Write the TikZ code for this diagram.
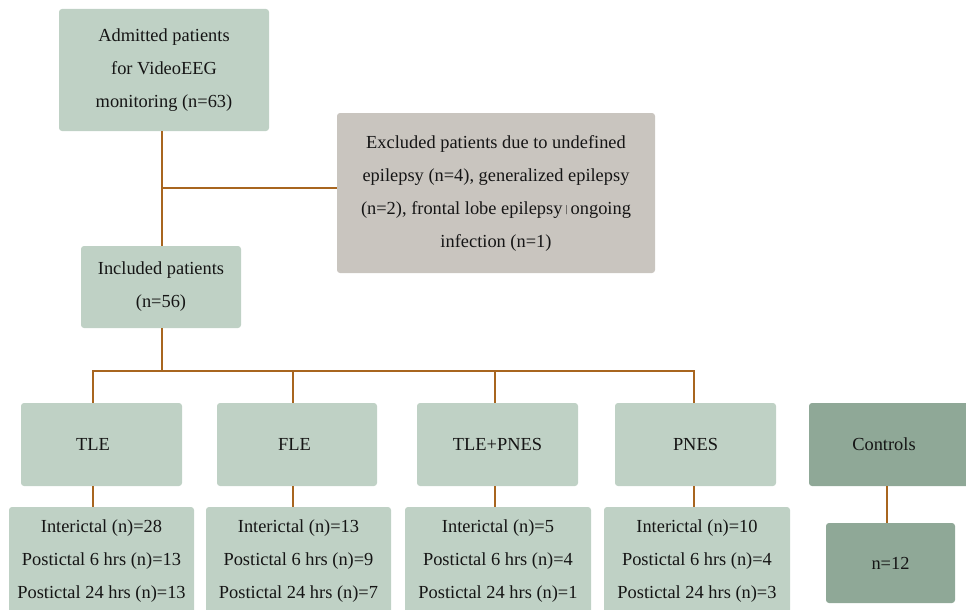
\documentclass[tikz,border=0pt]{standalone}
\usepackage{fontspec}
\setmainfont{Liberation Serif}
\definecolor{boxg}{HTML}{BFD1C5}
\definecolor{boxgray}{HTML}{C9C5BF}
\definecolor{boxdark}{HTML}{8FA897}
\definecolor{brn}{HTML}{A8651F}
\definecolor{txt}{HTML}{151515}
\begin{document}
\begin{tikzpicture}[x=1pt,y=-1pt,
  box/.style={rectangle, rounded corners=3pt, align=center, inner sep=0pt,
    font=\fontsize{18.4}{33}\selectfont, text=txt},
  lg/.style={box, fill=boxg},
  gr/.style={box, fill=boxgray},
  dk/.style={box, fill=boxdark},
  conn/.style={draw=brn, line width=2.5pt}]
\useasboundingbox (0,0) rectangle (966,610);

\node[lg, minimum width=210pt, minimum height=122pt] (adm) at (164,70)
  {Admitted patients\\for VideoEEG\\monitoring (n=63)};
\node[gr, minimum width=318pt, minimum height=160pt] (exc) at (496,193)
  {Excluded patients due to undefined\\epilepsy (n=4), generalized epilepsy\\(n=2), frontal lobe epilepsy\,\raisebox{1.5pt}{\fontsize{10}{10}\selectfont|}\,ongoing\\infection (n=1)};
\node[lg, minimum width=160pt, minimum height=82pt] (inc) at (161,287)
  {Included patients\\(n=56)};

\node[lg, minimum width=161pt, minimum height=83pt] (tle) at (101.5,444.5) {TLE\hspace*{17pt}};
\node[lg, minimum width=160pt, minimum height=83pt] (fle) at (297,444.5) {FLE\hspace*{5pt}};
\node[lg, minimum width=161pt, minimum height=83pt] (tp) at (497.5,444.5) {TLE+PNES};
\node[lg, minimum width=161pt, minimum height=83pt] (pnes) at (695.5,444.5) {PNES};
\node[dk, minimum width=162pt, minimum height=83pt] (ctl) at (890,444.5) {Controls\hspace*{12pt}};

\node[lg, minimum width=185pt, minimum height=108pt] (tleb) at (101.5,561)
  {Interictal (n)=28\\Postictal 6 hrs (n)=13\\Postictal 24 hrs (n)=13};
\node[lg, minimum width=185pt, minimum height=108pt] (fleb) at (298.5,561)
  {Interictal (n)=13\\Postictal 6 hrs (n)=9\\Postictal 24 hrs (n)=7};
\node[lg, minimum width=186pt, minimum height=108pt] (tpb) at (498,561)
  {Interictal (n)=5\\Postictal 6 hrs (n)=4\\Postictal 24 hrs (n)=1};
\node[lg, minimum width=186pt, minimum height=108pt] (pnesb) at (697,561)
  {Interictal (n)=10\\Postictal 6 hrs (n)=4\\Postictal 24 hrs (n)=3};
\node[dk, minimum width=129pt, minimum height=80pt] (n12) at (890.5,563) {n=12};

\coordinate (junc) at (162,188);
\coordinate (b1) at (93,371);
\coordinate (b2) at (293,371);
\coordinate (b3) at (495,371);
\coordinate (b4) at (694,371);
\coordinate (b5) at (887,0);
\coordinate (bi) at (162,371);

\draw[conn] (junc |- adm.south) -- (junc |- inc.north);
\draw[conn] (junc) -- (junc -| exc.west);
\draw[conn] (bi |- inc.south) -- (bi);
\draw[conn, line cap=rect] (b1) -- (b4);
\foreach \b/\t/\u in {b1/tle/tleb, b2/fle/fleb, b3/tp/tpb, b4/pnes/pnesb}{
  \draw[conn] (\b) -- (\b |- \t.north);
  \draw[conn] (\b |- \t.south) -- (\b |- \u.north);
}
\draw[conn] (b5 |- ctl.south) -- (b5 |- n12.north);
\end{tikzpicture}
\end{document}
